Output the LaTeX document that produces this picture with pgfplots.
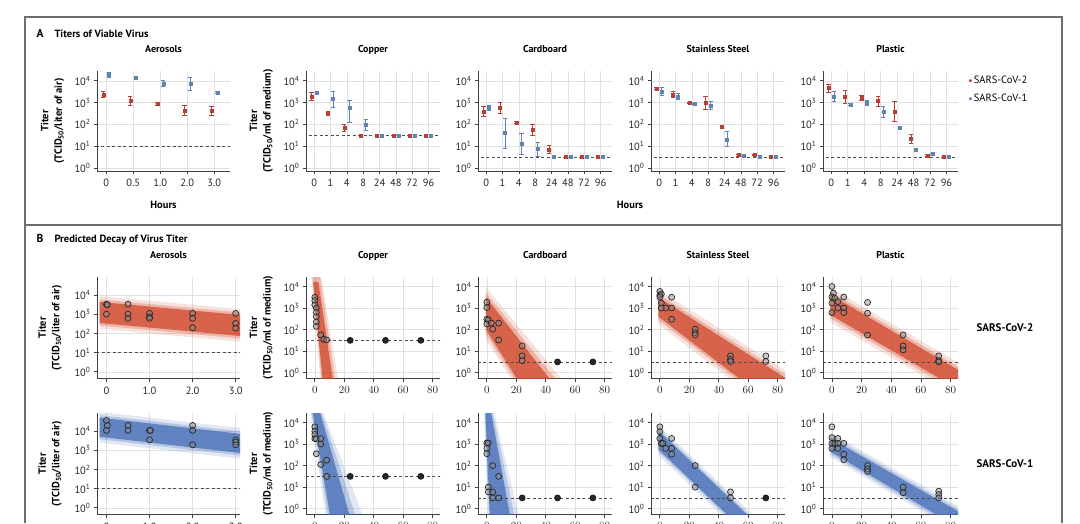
\documentclass[border=0pt]{standalone}
\usepackage{pgfplots}
\pgfplotsset{compat=1.18}
\usepackage{fontspec}
\setmainfont{PT Sans}

\definecolor{ared}{RGB}{182,64,56}
\definecolor{ablue}{RGB}{96,132,178}
\definecolor{bred}{RGB}{208,72,44}
\definecolor{bblue}{RGB}{70,110,182}
\definecolor{framegray}{RGB}{110,110,110}

\newcommand\tk{\fontsize{10.5}{12}\selectfont}
\newcommand\ttl{\fontsize{10}{12}\selectfont\bfseries}
\newcommand\lab{\fontsize{10.5}{13.5}\selectfont\bfseries}
\newcommand\leg{\fontsize{10.5}{12}\selectfont}

\pgfplotsset{
  base/.style={scale only axis, anchor=south west,
    axis x line*=bottom, axis y line*=left,
    axis line style={black!75, line width=0.8pt, -},
    tick style={black!75, line width=0.7pt},
    tick align=outside, major tick length=3pt,
    grid=major, major grid style={black!12, line width=0.6pt},
    tick label style={font=\tk, text=black!85},
    xticklabel style={yshift=-1.5pt},
    title style={font=\ttl, at={(0.5,1)}, anchor=base, yshift=13pt},
    ytick={0,1,2,3,4},
    yticklabels={10\textsuperscript{0},10\textsuperscript{1},10\textsuperscript{2},10\textsuperscript{3},10\textsuperscript{4}},
    ylabel style={font=\lab, align=center, at={(axis description cs:-0.245,0.5)}, anchor=south, inner sep=0pt},
  },
  rowA/.style={base, height=100pt, ymin=-0.14, ymax=4.45},
  surfA/.style={rowA, width=134pt, xmin=-0.5, xmax=7.7, xtick={0,...,7}, xticklabels={0,1,4,8,24,48,72,96}},
  rowB/.style={base, height=101.5pt},
  aeroB/.style={rowB, width=143pt, xmin=-0.22, xmax=3.1, ymin=-0.35, ymax=4.95, xtick={0,1,2,3}, xticklabels={0,1.0,2.0,3.0}},
  surfB/.style={rowB, width=134pt, xmin=-6, xmax=85, ymin=-0.27, ymax=4.44, xtick={0,20,40,60,80}},
  ptA/.style={only marks, mark=square*, mark size=1.5pt, forget plot,
    error bars/y dir=both, error bars/y explicit,
    error bars/error bar style={line width=0.7pt},
    error bars/error mark options={rotate=90, line width=0.7pt, mark size=2.2pt}},
  circ/.style={only marks, mark=*, mark size=3pt, mark options={draw=black!85, fill=black!45, fill opacity=0.45, line width=0.7pt}},
  solidcirc/.style={only marks, mark=*, mark size=3pt, mark options={draw=black!90, fill=black!85, line width=0.7pt}},
  lod/.style={black!70, line width=0.8pt, dash pattern=on 3pt off 2.5pt, forget plot},
  b1/.style={draw=none, fill opacity=0.16, forget plot},
  b2/.style={draw=none, fill opacity=0.28, forget plot},
  b3/.style={draw=none, fill opacity=0.75, forget plot},
}

\begin{document}
\begin{tikzpicture}
\useasboundingbox (0,0) rectangle (1080pt,-523pt);
\fill[white] (0,0) rectangle (1080pt,-523pt);
\clip (0,0) rectangle (1080pt,-523pt);
\draw[framegray, line width=1.2pt] (25pt,-523pt) -- (25pt,-17pt) -- (1062pt,-17pt) -- (1062pt,-523pt);
\draw[framegray, line width=1.2pt] (25pt,-225pt) -- (1062pt,-225pt);
\node[anchor=base west, font=\fontsize{11.5}{13}\selectfont\bfseries] at (33pt,-37pt) {A};
\node[anchor=base west, font=\fontsize{10.5}{12}\selectfont\bfseries] at (51pt,-37pt) {Titers of Viable Virus};
\node[anchor=base west, font=\fontsize{11.5}{13}\selectfont\bfseries] at (33pt,-242pt) {B};
\node[anchor=base west, font=\fontsize{10.5}{12}\selectfont\bfseries] at (51pt,-242pt) {Predicted Decay of Virus Titer};
\node[anchor=base, font=\lab] at (630pt,-208pt) {Hours};
\node[font=\fontsize{11}{13}\selectfont\bfseries] at (1005pt,-328pt) {SARS-CoV-2};
\node[font=\fontsize{11}{13}\selectfont\bfseries] at (1005pt,-464pt) {SARS-CoV-1};

% ================= Panel A =================
\begin{axis}[rowA, width=133pt, at={(97pt,-171pt)}, xmin=-0.34, xmax=4.58,
  xtick={0,...,4}, xticklabels={0,0.5,1.0,2.0,3.0}, title=Aerosols,
  ylabel={Titer\\(TCID\textsubscript{50}/liter of air)},
  xlabel=Hours, xlabel style={font=\lab, at={(axis description cs:0.5,0)}, anchor=base, yshift=-37pt}]
\addplot[lod] coordinates {(-1,1) (5,1)};
\addplot[ared, ptA] table[x expr=\thisrow{x}-0.11, y=y, y error plus=ep, y error minus=em] {
x y ep em
0 3.36 0.14 0.14
1 3.08 0.20 0.20
2 2.95 0.06 0.06
3 2.65 0.23 0.23
4 2.62 0.20 0.20
};
\addplot[ablue, ptA] table[x expr=\thisrow{x}+0.11, y=y, y error plus=ep, y error minus=em] {
x y ep em
0 4.28 0.12 0.12
1 4.12 0.05 0.05
2 3.88 0.14 0.14
3 3.88 0.30 0.30
4 3.46 0.05 0.05
};
\end{axis}

\begin{axis}[surfA, at={(306pt,-171pt)}, title=Copper,
  ylabel={Titer\\(TCID\textsubscript{50}/ml of medium)}]
\addplot[lod] coordinates {(-1,1.5) (9,1.5)};
\addplot[ared, ptA] table[x expr=\thisrow{x}-0.16, y=y, y error plus=ep, y error minus=em] {
x y ep em
0 3.29 0.17 0.17
1 2.50 0.10 0.10
2 1.84 0.18 0.18
3 1.50 0 0
4 1.50 0 0
5 1.50 0 0
6 1.50 0 0
7 1.50 0 0
};
\addplot[ablue, ptA] table[x expr=\thisrow{x}+0.16, y=y, y error plus=ep, y error minus=em] {
x y ep em
0 3.44 0.05 0.05
1 3.19 0.33 0.42
2 2.77 0.33 0.68
3 1.99 0.26 0.27
4 1.50 0 0
5 1.50 0 0
6 1.50 0 0
7 1.50 0 0
};
\end{axis}

\begin{axis}[surfA, at={(478pt,-171pt)}, title=Cardboard]
\addplot[lod] coordinates {(-1,0.5) (9,0.5)};
\addplot[ared, ptA] table[x expr=\thisrow{x}-0.16, y=y, y error plus=ep, y error minus=em] {
x y ep em
0 2.59 0.22 0.22
1 2.77 0.25 0.25
2 2.09 0.05 0.05
3 1.75 0.24 0.24
4 0.85 0.19 0.19
5 0.50 0 0
6 0.50 0 0
7 0.50 0 0
};
\addplot[ablue, ptA] table[x expr=\thisrow{x}+0.16, y=y, y error plus=ep, y error minus=em] {
x y ep em
0 2.77 0.12 0.12
1 1.60 0.69 0.71
2 1.12 0.45 0.48
3 0.89 0.30 0.38
4 0.50 0 0
5 0.50 0 0
6 0.50 0 0
7 0.50 0 0
};
\end{axis}

\begin{axis}[surfA, at={(651pt,-171pt)}, title=Stainless Steel]
\addplot[lod] coordinates {(-1,0.5) (9,0.5)};
\addplot[ared, ptA] table[x expr=\thisrow{x}-0.16, y=y, y error plus=ep, y error minus=em] {
x y ep em
0 3.64 0.05 0.05
1 3.37 0.15 0.15
2 2.99 0.03 0.03
3 2.99 0.30 0.30
4 1.90 0.05 0.05
5 0.59 0.05 0.05
6 0.59 0.03 0.03
7 0.50 0 0
};
\addplot[ablue, ptA] table[x expr=\thisrow{x}+0.16, y=y, y error plus=ep, y error minus=em] {
x y ep em
0 3.52 0.17 0.17
1 3.29 0.15 0.15
2 2.95 0.03 0.03
3 2.87 0.20 0.20
4 1.30 0.40 0.30
5 0.57 0.05 0.05
6 0.50 0 0
7 0.50 0 0
};
\end{axis}

\begin{axis}[surfA, width=135pt, at={(823pt,-171pt)}, title=Plastic,
  legend style={at={(axis description cs:1.08,0.97)}, anchor=north west, draw=none, fill=none, font=\leg, row sep=5pt, inner sep=0pt},
  legend cell align=left]
\addlegendimage{only marks, mark=*, mark size=1.4pt, ared}
\addlegendentry{SARS-CoV-2}
\addlegendimage{only marks, mark=*, mark size=1.4pt, ablue}
\addlegendentry{SARS-CoV-1}
\addplot[lod] coordinates {(-1,0.5) (9,0.5)};
\addplot[ared, ptA] table[x expr=\thisrow{x}-0.16, y=y, y error plus=ep, y error minus=em] {
x y ep em
0 3.67 0.18 0.18
1 3.25 0.30 0.30
2 3.22 0.12 0.12
3 3.07 0.22 0.22
4 2.59 0.45 0.45
5 1.34 0.22 0.22
6 0.57 0.05 0.05
7 0.50 0 0
};
\addplot[ablue, ptA] table[x expr=\thisrow{x}+0.16, y=y, y error plus=ep, y error minus=em] {
x y ep em
0 3.29 0.22 0.22
1 2.92 0.03 0.03
2 2.99 0.10 0.10
3 2.59 0.25 0.25
4 1.84 0.05 0.05
5 0.85 0.05 0.05
6 0.64 0.05 0.05
7 0.50 0 0
};
\end{axis}

% ================= Panel B, SARS-CoV-2 =================
\begin{axis}[aeroB, at={(97pt,-378.5pt)}, title=Aerosols,
  ylabel={Titer\\(TCID\textsubscript{50}/liter of air)}]
\addplot[b1, fill=bred] coordinates {(-0.16,3.95) (3.15,3.26) (3.15,1.56) (-0.16,2.25)};
\addplot[b2, fill=bred] coordinates {(-0.16,3.78) (3.15,3.09) (3.15,1.73) (-0.16,2.42)};
\addplot[b3, fill=bred] coordinates {(-0.16,3.65) (3.15,2.96) (3.15,1.86) (-0.16,2.55)};
\addplot[lod] coordinates {(-1,1) (4,1)};
\addplot[circ] coordinates {(0,3.53) (0.02,3.5) (0,3.01) (0.5,3.53) (0.5,3.01) (0.5,2.79)
  (1,3.05) (1,2.87) (1,2.79) (2,3.05) (2,2.79) (2,2.3) (3,3.05) (3,2.53) (3,2.28)};
\end{axis}

\begin{axis}[surfB, at={(306pt,-378.5pt)}, title=Copper,
  ylabel={Titer\\(TCID\textsubscript{50}/ml of medium)}]
\addplot[b1, fill=bred] coordinates {(-2.4,4.6) (4.0,4.6) (16,-0.4) (3.8,-0.4)};
\addplot[b2, fill=bred] coordinates {(-1.8,4.6) (3.2,4.6) (14,-0.4) (4.6,-0.4)};
\addplot[b3, fill=bred] coordinates {(-1.2,4.2) (2.4,4.2) (12.4,-0.4) (5.4,-0.4)};
\addplot[lod] coordinates {(-10,1.5) (100,1.5)};
\addplot[circ] coordinates {(0,3.5) (0,3.35) (0,3.15) (1,3.0) (1,2.8) (1,2.6) (1,2.35) (1,2.15)
  (4,1.75) (6,1.55) (8,1.52)};
\addplot[solidcirc] coordinates {(24,1.5) (48,1.5) (72,1.5)};
\end{axis}

\begin{axis}[surfB, at={(478pt,-378.5pt)}, title=Cardboard]
\addplot[b1, fill=bred] coordinates {(-0.6,3.95) (52,-0.4) (17.5,-0.4) (-0.6,1.55)};
\addplot[b2, fill=bred] coordinates {(-0.6,3.7) (48,-0.4) (19.5,-0.4) (-0.6,1.8)};
\addplot[b3, fill=bred] coordinates {(-0.6,3.5) (44,-0.4) (21.5,-0.4) (-0.6,2.0)};
\addplot[lod] coordinates {(-10,0.5) (100,0.5)};
\addplot[circ] coordinates {(0,3.27) (0,3.02) (0,2.48) (1,2.45) (0,2.26) (3,2.3) (4,2.02)
  (8,2.3) (8,1.52) (24,1.24) (24,0.78) (24,0.56)};
\addplot[solidcirc] coordinates {(48,0.5) (72,0.5)};
\end{axis}

\begin{axis}[surfB, at={(651pt,-378.5pt)}, title=Stainless Steel]
\addplot[b1, fill=bred] coordinates {(-1,3.85) (90,-0.1) (90,-2.5) (-1,2.25)};
\addplot[b2, fill=bred] coordinates {(-1,3.65) (90,-0.3) (90,-2.3) (-1,2.45)};
\addplot[b3, fill=bred] coordinates {(-1,3.5) (90,-0.45) (90,-2.15) (-1,2.6)};
\addplot[lod] coordinates {(-10,0.5) (100,0.5)};
\addplot[circ] coordinates {(0,3.77) (0,3.6) (1,3.65) (0,3.51) (1,3.23) (4,3.0) (1,3.0)
  (8,3.5) (8,3.0) (8,2.48) (24,2.02) (24,1.86) (24,1.75) (48,0.78) (48,0.62) (48,0.52)
  (72,0.78) (72,0.52)};
\end{axis}

\begin{axis}[surfB, width=135pt, at={(823pt,-378.5pt)}, title=Plastic]
\addplot[b1, fill=bred] coordinates {(-1,3.95) (90,0.26) (90,-1.29) (-1,2.35)};
\addplot[b2, fill=bred] coordinates {(-1,3.77) (90,0.08) (90,-1.11) (-1,2.53)};
\addplot[b3, fill=bred] coordinates {(-1,3.62) (90,-0.07) (90,-0.96) (-1,2.68)};
\addplot[lod] coordinates {(-10,0.5) (100,0.5)};
\addplot[circ] coordinates {(0,4.0) (1,3.69) (0,3.51) (2,3.45) (4,3.3) (0,3.23) (0,2.79)
  (4,3.0) (8,3.51) (8,3.0) (8,2.79) (24,3.26) (24,2.76) (24,1.75) (48,1.75) (48,1.24)
  (48,1.06) (72,0.78) (72,0.56) (72,0.5)};
\end{axis}

% ================= Panel B, SARS-CoV-1 =================
\begin{axis}[aeroB, at={(97pt,-514.5pt)},
  ylabel={Titer\\(TCID\textsubscript{50}/liter of air)}]
\addplot[b1, fill=bblue] coordinates {(-0.16,5.01) (3.15,4.15) (3.15,2.55) (-0.16,3.41)};
\addplot[b2, fill=bblue] coordinates {(-0.16,4.84) (3.15,3.98) (3.15,2.72) (-0.16,3.58)};
\addplot[b3, fill=bblue] coordinates {(-0.16,4.71) (3.15,3.85) (3.15,2.85) (-0.16,3.71)};
\addplot[lod] coordinates {(-1,1) (4,1)};
\addplot[circ] coordinates {(0,4.56) (0.02,4.3) (0,4.04) (0.5,4.3) (0.5,4.04) (1,4.04)
  (1.02,4.04) (1,3.55) (2,4.3) (2,4.04) (2,3.29) (3,3.55) (3,3.43) (3,3.29)};
\end{axis}

\begin{axis}[surfB, at={(306pt,-514.5pt)},
  ylabel={Titer\\(TCID\textsubscript{50}/ml of medium)}]
\addplot[b1, fill=bblue] coordinates {(-3.2,4.6) (5,4.6) (33,-0.4) (7.5,-0.4)};
\addplot[b2, fill=bblue] coordinates {(-2.5,4.6) (4,4.6) (28,-0.4) (9,-0.4)};
\addplot[b3, fill=bblue] coordinates {(-1.8,4.6) (3,4.6) (24,-0.4) (10.5,-0.4)};
\addplot[lod] coordinates {(-10,1.5) (100,1.5)};
\addplot[circ] coordinates {(0,3.8) (0,3.6) (0,3.45) (0,3.25) (1,3.25) (4,3.25) (4,3.0)
  (1,2.55) (4,2.05) (8,2.25) (8,1.5)};
\addplot[solidcirc] coordinates {(24,1.5) (48,1.5) (72,1.5)};
\end{axis}

\begin{axis}[surfB, at={(478pt,-514.5pt)}]
\addplot[b1, fill=bblue] coordinates {(-2,4.6) (4.5,4.6) (22,-0.4) (1,-0.4)};
\addplot[b2, fill=bblue] coordinates {(-1.5,4.6) (3.5,4.6) (19,-0.4) (1.5,-0.4)};
\addplot[b3, fill=bblue] coordinates {(-1,4.6) (2.5,4.6) (16,-0.4) (2,-0.4)};
\addplot[lod] coordinates {(-10,0.5) (100,0.5)};
\addplot[circ] coordinates {(0,3.05) (1,3.05) (0,2.8) (0,2.55) (4,2.0) (8,1.5) (1,1.0)
  (1,0.78) (4,0.77) (4,0.5) (8,0.5)};
\addplot[solidcirc] coordinates {(24,0.5) (48,0.5) (72,0.5)};
\end{axis}

\begin{axis}[surfB, at={(651pt,-514.5pt)}]
\addplot[b1, fill=bblue] coordinates {(-1,3.88) (90,-2.0) (90,-3.4) (-1,2.48)};
\addplot[b2, fill=bblue] coordinates {(-1,3.72) (90,-2.17) (90,-3.25) (-1,2.65)};
\addplot[b3, fill=bblue] coordinates {(-1,3.62) (90,-2.27) (90,-3.15) (-1,2.75)};
\addplot[lod] coordinates {(-10,0.5) (100,0.5)};
\addplot[circ] coordinates {(0,3.8) (0,3.57) (0,3.26) (1,3.03) (2,3.03) (4,2.8) (8,3.26)
  (8,2.8) (8,2.53) (24,2.0) (24,1.0) (48,0.78) (48,0.5)};
\addplot[solidcirc] coordinates {(72,0.5)};
\end{axis}

\begin{axis}[surfB, width=135pt, at={(823pt,-514.5pt)}]
\addplot[b1, fill=bblue] coordinates {(-1,3.52) (90,-0.07) (90,-1.33) (-1,2.4)};
\addplot[b2, fill=bblue] coordinates {(-1,3.38) (90,-0.21) (90,-1.2) (-1,2.53)};
\addplot[b3, fill=bblue] coordinates {(-1,3.27) (90,-0.32) (90,-1.08) (-1,2.65)};
\addplot[lod] coordinates {(-10,0.5) (100,0.5)};
\addplot[circ] coordinates {(0,3.8) (0,3.3) (4,3.26) (0,3.03) (2,3.03) (4,3.03) (8,3.03)
  (0,2.8) (4,2.8) (8,2.53) (8,2.27) (24,2.0) (24,1.85) (24,1.73) (48,1.0) (48,0.74)
  (72,0.81) (72,0.66) (72,0.5)};
\end{axis}
\end{tikzpicture}
\end{document}
